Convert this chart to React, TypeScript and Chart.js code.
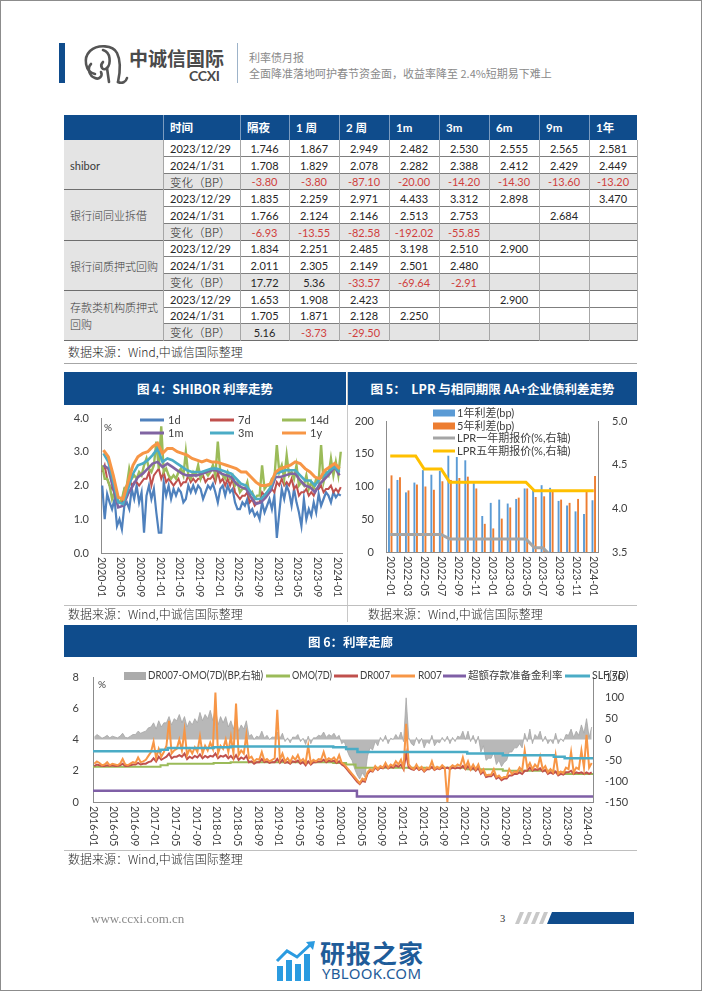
import React, { useEffect, useRef } from "react";
import { Chart, registerables } from "chart.js";

Chart.register(...registerables);

const BLUE = "#0F4C8C";
const AXIS = "#8c8c8c";
const NUMFONT = "Lato, 'Noto Sans CJK SC', sans-serif";
const CJK = "'Noto Sans CJK SC', sans-serif";

Chart.defaults.font.family = NUMFONT;
Chart.defaults.color = "#404040";

// ================= Table data =================
const tableHeads = ["时间", "隔夜", "1 周", "2 周", "1m", "3m", "6m", "9m", "1年"];
const rowLabels = ["2023/12/29", "2024/1/31", "变化（BP）"];
const groupNames = ["shibor", "银行间同业拆借", "银行间质押式回购", "存款类机构质押式\n回购"];
const shiborTable = [
  ["1.746", "1.867", "2.949", "2.482", "2.530", "2.555", "2.565", "2.581"],
  ["1.708", "1.829", "2.078", "2.282", "2.388", "2.412", "2.429", "2.449"],
  ["-3.80", "-3.80", "-87.10", "-20.00", "-14.20", "-14.30", "-13.60", "-13.20"],
];
const interbankTable = [
  ["1.835", "2.259", "2.971", "4.433", "3.312", "2.898", "", "3.470"],
  ["1.766", "2.124", "2.146", "2.513", "2.753", "", "2.684", ""],
  ["-6.93", "-13.55", "-82.58", "-192.02", "-55.85", "", "", ""],
];
const repoTable = [
  ["1.834", "2.251", "2.485", "3.198", "2.510", "2.900", "", ""],
  ["2.011", "2.305", "2.149", "2.501", "2.480", "", "", ""],
  ["17.72", "5.36", "-33.57", "-69.64", "-2.91", "", "", ""],
];
const depositRepoTable = [
  ["1.653", "1.908", "2.423", "", "", "2.900", "", ""],
  ["1.705", "1.871", "2.128", "2.250", "", "", "", ""],
  ["5.16", "-3.73", "-29.50", "", "", "", "", ""],
];

// ================= Chart 4: SHIBOR (2020-01 .. 2024-01) =================
const shiborStartYear = 2020;
const shiborTicks = [0, 4, 8, 12, 16, 20, 24, 28, 32, 36, 40, 44, 48];
const shiborNames = ["1d", "7d", "14d", "1m", "3m", "1y"];
// semi-monthly
const shibor1d = [
  2.0, 1.0, 1.75, 1.5, 1.3, 1.6, 0.8, 1.0, 0.7, 1.4, 1.5, 1.3, 1.9, 1.6, 2.0, 1.5, 1.8, 0.6, 1.7, 2.0, 1.6, 1.9, 1.2, 0.6,
  0.6, 2.1, 1.7, 2.0, 1.6, 1.9, 1.7, 1.9, 1.8, 1.5, 1.6, 2.0, 1.8, 2.0, 1.8, 2.0, 1.9, 1.6, 1.8, 2.0, 1.9, 2.05, 1.8, 1.5,
  1.9, 2.0, 1.7, 2.0, 1.8, 1.9, 1.5, 1.3, 1.3, 1.5, 1.4, 1.6, 1.2, 1.3, 1.1, 1.2, 1.0, 1.5, 1.2, 1.4, 1.6, 1.3, 1.7, 0.45,
  1.2, 1.9, 1.6, 2.0, 1.8, 1.4, 1.9, 1.5, 1.2, 0.8, 1.6, 1.0, 1.3, 1.1, 1.5, 1.2, 1.75, 1.4, 1.6, 1.8, 1.7, 1.5, 1.8, 1.65,
  1.75, 1.7,
];
const shibor7d = [
  2.4, 2.6, 2.2, 2.0, 1.9, 2.1, 1.6, 1.5, 1.5, 1.9, 1.8, 2.2, 2.0, 2.1, 2.1, 2.0, 2.1, 2.2, 2.2, 2.4, 2.0, 2.3, 2.4, 2.5,
  2.2, 2.4, 2.1, 2.2, 2.1, 2.0, 2.1, 2.2, 2.0, 2.1, 2.1, 2.3, 2.1, 2.2, 2.1, 2.2, 2.2, 2.3, 2.1, 2.2, 2.2, 2.3, 2.1, 2.4,
  2.1, 2.2, 2.0, 2.2, 2.0, 2.2, 1.8, 1.7, 1.6, 1.7, 1.7, 1.8, 1.5, 1.6, 1.4, 1.5, 1.5, 1.8, 1.7, 1.8, 1.8, 1.9, 1.8, 2.1,
  2.0, 2.2, 2.0, 2.1, 2.0, 2.2, 1.9, 2.0, 1.7, 1.8, 1.8, 1.9, 1.7, 1.8, 1.7, 1.9, 1.9, 2.0, 1.8, 1.9, 1.9, 2.0, 1.8, 1.9,
  1.8, 1.95,
];
const shibor14d = [
  2.6, 2.2, 2.2, 2.0, 1.6, 1.8, 1.5, 1.5, 1.6, 1.9, 2.0, 2.5, 2.2, 2.3, 2.2, 2.4, 2.3, 2.6, 2.8, 2.5, 2.4, 2.6, 3.3, 2.5,
  3.75, 2.4, 2.5, 2.3, 2.2, 2.3, 2.2, 2.4, 2.5, 2.3, 3.0, 2.3, 2.2, 2.4, 2.3, 2.6, 2.2, 2.4, 2.4, 2.3, 2.4, 2.6, 2.3, 3.3,
  2.4, 2.3, 2.2, 2.4, 2.2, 2.3, 2.0, 2.1, 1.8, 1.9, 1.9, 2.1, 1.7, 1.8, 1.6, 1.7, 1.7, 2.6, 1.9, 2.0, 2.0, 2.2, 2.2, 3.2,
  2.4, 2.6, 2.2, 2.9, 2.3, 2.4, 2.2, 2.6, 2.0, 2.1, 2.0, 2.3, 1.9, 2.1, 1.9, 2.2, 2.1, 3.2, 2.1, 2.4, 2.3, 2.8, 2.3, 2.7,
  2.3, 3.0,
];
// monthly
const shibor1m = [
  2.6, 2.5, 1.9, 1.35, 1.4, 1.75, 2.0, 2.25, 2.35, 2.5, 2.65, 2.7,
  2.55, 2.65, 2.55, 2.45, 2.35, 2.3, 2.3, 2.3, 2.35, 2.4, 2.45, 2.45,
  2.35, 2.3, 2.25, 2.05, 1.95, 1.9, 1.65, 1.45, 1.5, 1.65, 1.85, 2.25,
  2.25, 2.3, 2.35, 2.35, 2.15, 2.0, 1.95, 1.8, 2.05, 2.2, 2.35, 2.55,
  2.3,
];
const shibor3m = [
  2.95, 2.7, 2.1, 1.5, 1.45, 1.9, 2.35, 2.6, 2.65, 2.75, 2.9, 3.1,
  2.7, 2.8, 2.75, 2.65, 2.55, 2.45, 2.4, 2.4, 2.4, 2.45, 2.5, 2.5,
  2.45, 2.4, 2.35, 2.2, 2.05, 2.0, 1.8, 1.6, 1.6, 1.75, 1.95, 2.35,
  2.4, 2.45, 2.45, 2.45, 2.3, 2.15, 2.15, 2.0, 2.2, 2.3, 2.45, 2.55,
  2.4,
];
const shibor1y = [
  3.05, 2.85, 2.3, 1.65, 1.6, 2.1, 2.6, 2.85, 2.95, 3.0, 3.15, 3.25,
  2.95, 3.1, 3.1, 3.0, 2.95, 2.9, 2.8, 2.75, 2.7, 2.75, 2.7, 2.7,
  2.65, 2.6, 2.55, 2.5, 2.4, 2.4, 2.25, 2.1, 2.0, 2.0, 2.05, 2.4,
  2.5, 2.55, 2.6, 2.7, 2.65, 2.5, 2.4, 2.25, 2.2, 2.45, 2.55, 2.65,
  2.5,
];

// ================= Chart 5: LPR spreads =================
const lprMonths = [
  "2022-01", "2022-02", "2022-03", "2022-04", "2022-05", "2022-06", "2022-07", "2022-08", "2022-09", "2022-10", "2022-11", "2022-12",
  "2023-01", "2023-02", "2023-03", "2023-04", "2023-05", "2023-06", "2023-07", "2023-08", "2023-09", "2023-10", "2023-11", "2023-12",
  "2024-01",
];
const lprNames = ["1年利差(bp)", "5年利差(bp)", "LPR一年期报价(%,右轴)", "LPR五年期报价(%,右轴)"];
const spread1y = [97, 110, 91, 106, 125, 118, 124, 147, 145, 140, 105, 55, 75, 80, 74, 81, 97, 95, 102, 98, 78, 71, 62, 58, 79];
const spread5y = [117, 114, 94, 103, 100, 95, 108, 110, 113, 115, 97, 43, 36, 51, 68, 83, 97, 84, 85, 93, 80, 75, 81, 92, 116];
const lpr1y = [3.7, 3.7, 3.7, 3.7, 3.7, 3.7, 3.7, 3.65, 3.65, 3.65, 3.65, 3.65, 3.65, 3.65, 3.65, 3.65, 3.65, 3.55, 3.55, 3.45, 3.45, 3.45, 3.45, 3.45, 3.45];
const lpr5y = [4.6, 4.6, 4.6, 4.6, 4.45, 4.45, 4.45, 4.3, 4.3, 4.3, 4.3, 4.3, 4.3, 4.3, 4.3, 4.3, 4.3, 4.2, 4.2, 4.2, 4.2, 4.2, 4.2, 4.2, 4.2];

// ================= Chart 6: corridor (2016-01 .. 2024-01) =================
const corridorStartYear = 2016;
const corridorTicks = [0, 4, 8, 12, 16, 20, 24, 28, 32, 36, 40, 44, 48, 52, 56, 60, 64, 68, 72, 76, 80, 84, 88, 92, 96];
const corridorNames = ["DR007-OMO(7D)(BP,右轴)", "OMO(7D)", "DR007", "R007", "超额存款准备金利率", "SLF(7D)"];
// semi-monthly
const r007 = [
  2.45, 2.6, 2.5, 2.35, 2.4, 2.55, 2.35, 2.45, 2.4, 2.35, 2.45, 2.75, 2.4, 2.35, 2.45, 2.55, 2.5, 2.85, 2.55, 2.6, 2.7, 2.95, 3.2, 3.85,
  2.8, 3.4, 2.9, 3.2, 3.6, 5.2, 3.1, 3.3, 3.4, 4.0, 3.3, 4.6, 3.0, 3.4, 3.1, 3.5, 3.2, 4.2, 3.1, 3.6, 3.3, 3.8, 3.4, 7.0,
  3.1, 3.6, 3.4, 4.0, 3.2, 4.2, 3.1, 6.3, 3.0, 3.3, 3.1, 4.3, 2.8, 2.9, 2.6, 2.75, 2.7, 3.2, 2.65, 2.75, 2.6, 2.7, 2.8, 5.9,
  2.7, 3.1, 2.6, 2.8, 2.55, 2.9, 2.7, 3.0, 2.6, 2.75, 2.5, 3.6, 2.5, 2.7, 2.6, 2.75, 2.7, 3.2, 2.65, 2.8, 2.7, 2.85, 2.6, 3.0,
  2.5, 2.4, 2.2, 2.0, 1.8, 1.6, 1.4, 1.2, 1.5, 1.4, 1.9, 2.1, 2.0, 2.3, 2.1, 2.3, 2.2, 2.5, 2.2, 2.4, 2.3, 2.6, 2.4, 2.7,
  2.2, 5.0, 2.4, 2.2, 2.1, 2.4, 2.1, 2.25, 2.0, 2.2, 2.15, 2.6, 2.1, 2.25, 2.15, 2.35, 2.2, 0.0, 2.2, 2.35, 2.25, 2.4, 2.3, 2.85,
  2.2, 2.6, 2.1, 2.4, 2.1, 2.4, 1.9, 2.1, 1.7, 1.75, 1.75, 2.1, 1.6, 1.7, 1.5, 1.6, 1.6, 2.1, 1.8, 1.95, 1.9, 2.2, 2.0, 3.3,
  2.2, 2.5, 2.1, 2.4, 2.2, 2.9, 2.1, 2.3, 1.9, 2.1, 1.9, 3.0, 1.8, 1.95, 1.85, 2.2, 2.1, 3.2, 1.9, 2.2, 2.1, 3.3, 2.2, 4.3,
  2.2, 2.5,
];
const dr007 = [
  2.3, 2.4, 2.35, 2.3, 2.3, 2.35, 2.3, 2.35, 2.3, 2.3, 2.35, 2.45, 2.3, 2.3, 2.35, 2.4, 2.4, 2.5, 2.4, 2.45, 2.45, 2.55, 2.6, 2.8,
  2.6, 2.9, 2.7, 2.8, 2.9, 3.1, 2.8, 2.9, 2.9, 3.0, 2.9, 3.1, 2.75, 2.9, 2.8, 2.95, 2.85, 3.05, 2.8, 2.95, 2.85, 2.95, 2.9, 3.1,
  2.8, 2.95, 2.9, 3.0, 2.8, 2.95, 2.75, 3.0, 2.7, 2.85, 2.75, 2.95, 2.55, 2.6, 2.45, 2.55, 2.55, 2.75, 2.55, 2.6, 2.5, 2.55, 2.55, 2.75,
  2.5, 2.7, 2.5, 2.55, 2.45, 2.6, 2.55, 2.65, 2.45, 2.55, 2.35, 2.6, 2.4, 2.55, 2.55, 2.6, 2.6, 2.7, 2.55, 2.65, 2.6, 2.65, 2.5, 2.6,
  2.4, 2.3, 2.1, 1.9, 1.7, 1.5, 1.3, 1.15, 1.35, 1.3, 1.8, 2.0, 1.95, 2.2, 2.05, 2.2, 2.15, 2.3, 2.15, 2.25, 2.2, 2.35, 2.25, 2.4,
  2.1, 3.1, 2.2, 2.1, 2.05, 2.2, 2.05, 2.15, 1.95, 2.1, 2.1, 2.25, 2.05, 2.15, 2.1, 2.2, 2.15, 2.2, 2.1, 2.2, 2.15, 2.2, 2.15, 2.3,
  2.1, 2.3, 2.05, 2.2, 2.0, 2.2, 1.8, 1.95, 1.6, 1.65, 1.65, 1.8, 1.5, 1.6, 1.4, 1.5, 1.5, 1.7, 1.7, 1.8, 1.8, 1.9, 1.8, 2.0,
  2.0, 2.2, 2.0, 2.1, 2.05, 2.15, 1.95, 2.05, 1.8, 1.9, 1.8, 1.95, 1.7, 1.8, 1.75, 1.9, 1.9, 2.0, 1.8, 1.9, 1.85, 1.9, 1.8, 1.9,
  1.8, 1.9,
];
const drOmoSpread = [
  5, 12, 8, 3, 6, 10, 4, 8, 6, 4, 8, 15, 5, 4, 8, 12, 12, 20, 15, 18, 20, 28, 30, 40,
  25, 45, 30, 40, 40, 55, 35, 50, 45, 60, 40, 55, 30, 45, 35, 50, 40, 65, 45, 60, 50, 70, 45, 75,
  35, 55, 40, 55, 30, 45, 25, 50, 20, 35, 25, 45, 8, 12, 0, 8, 5, 20, 3, 10, 0, 6, 5, 18,
  2, 15, -5, 4, -8, 6, 5, 12, -5, 3, -12, 8, -10, 4, 4, 10, 8, 18, 5, 12, 8, 15, 4, 10,
  -10, -5, -25, -40, -50, -70, -85, -95, -80, -90, -40, -20, -25, -5, -15, 5, -5, 10, -10, 3, 0, 12, 2, 18,
  -5, 100, 5, -10, -15, 5, -10, 3, -20, -5, -10, 10, -15, -5, -8, 5, -5, 8, -10, 5, -5, 8, 5, 20,
  0, 20, -5, 10, -10, 8, -30, -15, -50, -45, -45, -30, -60, -50, -65, -55, -50, -30, -30, -20, -20, -10, -20, 15,
  -5, 25, -10, 12, 5, 20, -5, 8, -10, 0, -10, 15, -10, 2, -5, 12, 10, 25, 5, 20, 10, 35, 15, 50,
  5, 30,
];
// step series: change dates (month index from 2016-01) and new levels
const omoX = [0, 13.1, 14.5, 23.4, 26.7, 46.6, 49.1, 50.95, 72.6, 79.5, 89.4, 91.5, 97];
const omoY = [2.25, 2.35, 2.45, 2.5, 2.55, 2.5, 2.4, 2.2, 2.1, 2.0, 1.9, 1.8, 1.8];
const slfX = [0, 13.1, 14.5, 23.4, 26.7, 46.6, 49.1, 51.3, 72.6, 79.5, 89.4, 91.5, 97];
const slfY = [3.25, 3.35, 3.45, 3.5, 3.55, 3.5, 3.4, 3.2, 3.1, 3.0, 2.9, 2.8, 2.8];
const excessX = [0, 51.2, 97];
const excessY = [0.72, 0.35, 0.35];

// ================= helpers =================
const semiPts = (arr: number[]) => arr.map((y, i) => ({ x: i * 0.5 + 0.25, y }));
const monthPts = (arr: number[]) => arr.map((y, i) => ({ x: i + 0.5, y }));
const stepPts = (xs: number[], ys: number[]) => xs.map((x, i) => ({ x, y: ys[i] }));
const ymLabel = (start: number, v: number) => {
  const y = start + Math.floor(v / 12);
  const m = Math.round(v % 12) + 1;
  return `${y}-${m < 10 ? "0" + m : m}`;
};

function makeOverlay(cfg: any) {
  return {
    id: "overlay",
    afterDraw(chart: any) {
      const ctx = chart.ctx;
      const sc = chart.scales.x;
      ctx.save();
      ctx.fillStyle = "#404040";
      ctx.font = cfg.xFont;
      ctx.textAlign = "left";
      ctx.textBaseline = "middle";
      sc.ticks.forEach((t: any, i: number) => {
        const lab = cfg.xLabel(t.value, i);
        if (!lab) return;
        const px = sc.getPixelForTick(i);
        ctx.save();
        ctx.translate(px, sc.top + cfg.xGap);
        ctx.rotate(Math.PI / 2);
        ctx.fillText(lab, 0, 0);
        ctx.restore();
      });
      ctx.font = cfg.legendFont;
      ctx.textBaseline = "middle";
      cfg.items.forEach((it: any) => {
        if (it.kind === "box") {
          ctx.fillStyle = it.color;
          ctx.fillRect(it.x1, it.y - it.h / 2, it.x2 - it.x1, it.h);
        } else {
          ctx.strokeStyle = it.color;
          ctx.lineWidth = it.w;
          ctx.beginPath();
          ctx.moveTo(it.x1, it.y);
          ctx.lineTo(it.x2, it.y);
          ctx.stroke();
        }
        ctx.fillStyle = "#404040";
        if (it.maxW) ctx.fillText(it.label, it.tx, it.y, it.maxW);
        else ctx.fillText(it.label, it.tx, it.y);
      });
      (cfg.texts || []).forEach((t: any) => {
        ctx.font = t.font;
        ctx.fillStyle = "#404040";
        ctx.fillText(t.t, t.x, t.y);
      });
      ctx.restore();
    },
  };
}

const baseOpts = {
  responsive: false,
  animation: false,
  events: [],
  plugins: { legend: { display: false }, tooltip: { enabled: false } },
};

function shiborConfig(): any {
  const colors = ["#4F81BD", "#C0504D", "#9BBB59", "#8064A2", "#4BACC6", "#F79646"];
  const widths = [2.2, 2, 2.4, 2.6, 2.6, 3];
  const series = [semiPts(shibor1d), semiPts(shibor7d), semiPts(shibor14d), monthPts(shibor1m), monthPts(shibor3m), monthPts(shibor1y)];
  const datasets = series.map((d, i) => ({
    label: shiborNames[i],
    data: d,
    borderColor: colors[i],
    backgroundColor: colors[i],
    borderWidth: widths[i],
    pointRadius: 0,
    tension: 0,
    fill: false,
    order: 6 - i,
  }));
  const sx = [76, 146, 218];
  const tx = [104, 174, 246];
  const items = shiborNames.map((n, i) => ({
    kind: "line",
    color: colors[i],
    w: 3,
    x1: sx[i % 3],
    x2: sx[i % 3] + 24,
    tx: tx[i % 3],
    y: i < 3 ? 15 : 28,
    label: n,
  }));
  return {
    type: "line",
    data: { datasets },
    options: {
      ...baseOpts,
      layout: { padding: { left: 0, right: 4, top: 13, bottom: 5 } },
      scales: {
        x: {
          type: "linear",
          min: 0,
          max: 49,
          grid: { display: false },
          border: { display: true, color: AXIS },
          ticks: { display: false },
          afterBuildTicks: (ax: any) => {
            ax.ticks = shiborTicks.map((v) => ({ value: v }));
          },
          afterFit: (s: any) => {
            s.height = 52;
          },
        },
        y: {
          min: 0,
          max: 4,
          grid: { display: false },
          border: { display: true, color: AXIS },
          ticks: { stepSize: 1, padding: 4, font: { size: 11 }, callback: (v: any) => Number(v).toFixed(1) },
          afterFit: (s: any) => {
            s.width = 37;
          },
        },
      },
    },
    plugins: [
      makeOverlay({
        xFont: "10.5px Lato",
        xGap: 4,
        xLabel: (v: number) => ymLabel(shiborStartYear, v),
        legendFont: "11px Lato",
        items,
        texts: [{ t: "%", x: 40, y: 23, font: "10px Lato" }],
      }),
    ],
  };
}

function lprConfig(): any {
  const items = [
    { kind: "box", color: "#5B9BD5", h: 7, x1: 84, x2: 106, tx: 108, y: 8, label: lprNames[0] },
    { kind: "box", color: "#ED7D31", h: 7, x1: 84, x2: 106, tx: 108, y: 21, label: lprNames[1] },
    { kind: "line", color: "#A5A5A5", w: 3, x1: 84, x2: 106, tx: 108, y: 33, label: lprNames[2] },
    { kind: "line", color: "#FFC000", w: 3, x1: 84, x2: 106, tx: 108, y: 46, label: lprNames[3] },
  ];
  return {
    type: "bar",
    data: {
      labels: lprMonths,
      datasets: [
        { type: "bar", label: lprNames[0], data: spread1y, backgroundColor: "#5B9BD5", yAxisID: "y", order: 2, categoryPercentage: 0.6, barPercentage: 0.75 },
        { type: "bar", label: lprNames[1], data: spread5y, backgroundColor: "#ED7D31", yAxisID: "y", order: 3, categoryPercentage: 0.6, barPercentage: 0.75 },
        { type: "line", label: lprNames[2], data: lpr1y, yAxisID: "y1", borderColor: "#A5A5A5", borderWidth: 3, pointRadius: 0, tension: 0, order: 1 },
        { type: "line", label: lprNames[3], data: lpr5y, yAxisID: "y1", borderColor: "#FFC000", borderWidth: 3, pointRadius: 0, tension: 0, order: 0 },
      ],
    },
    options: {
      ...baseOpts,
      layout: { padding: { left: 0, right: 0, top: 16, bottom: 6 } },
      scales: {
        x: {
          type: "category",
          offset: true,
          grid: { display: false },
          border: { display: true, color: AXIS },
          ticks: { display: false, autoSkip: false },
          afterFit: (s: any) => {
            s.height = 52;
          },
        },
        y: {
          position: "left",
          min: 0,
          max: 200,
          grid: { display: false },
          border: { display: true, color: AXIS },
          ticks: { stepSize: 50, padding: 4, font: { size: 11 } },
          afterFit: (s: any) => {
            s.width = 37;
          },
        },
        y1: {
          position: "right",
          min: 3.5,
          max: 5.0,
          grid: { display: false },
          border: { display: true, color: AXIS },
          ticks: { stepSize: 0.5, padding: 6, font: { size: 11 }, callback: (v: any) => Number(v).toFixed(1) },
          afterFit: (s: any) => {
            s.width = 38;
          },
        },
      },
    },
    plugins: [
      makeOverlay({
        xFont: "10.5px Lato",
        xGap: 4,
        xLabel: (_v: number, i: number) => (i % 2 === 0 ? lprMonths[i] : ""),
        legendFont: "11px Lato, 'Noto Sans CJK SC'",
        items,
      }),
    ],
  };
}

function corridorConfig(): any {
  const colors = ["#ABABAB", "#9BBB59", "#C0504D", "#F79646", "#7F5FA6", "#4BACC6"];
  const datasets: any[] = [
    { type: "line", label: corridorNames[0], data: semiPts(drOmoSpread), yAxisID: "y1", borderColor: "#A6A6A6", backgroundColor: "#B8B8B8", borderWidth: 0.8, pointRadius: 0, tension: 0, fill: { value: 0 }, order: 6 },
    { type: "line", label: corridorNames[1], data: stepPts(omoX, omoY), yAxisID: "y", borderColor: colors[1], borderWidth: 2, pointRadius: 0, stepped: "before", order: 5 },
    { type: "line", label: corridorNames[2], data: semiPts(dr007), yAxisID: "y", borderColor: colors[2], borderWidth: 2, pointRadius: 0, tension: 0, order: 4 },
    { type: "line", label: corridorNames[3], data: semiPts(r007), yAxisID: "y", borderColor: colors[3], borderWidth: 2, pointRadius: 0, tension: 0, order: 3 },
    { type: "line", label: corridorNames[4], data: stepPts(excessX, excessY), yAxisID: "y", borderColor: colors[4], borderWidth: 2.5, pointRadius: 0, stepped: "before", order: 2 },
    { type: "line", label: corridorNames[5], data: stepPts(slfX, slfY), yAxisID: "y", borderColor: colors[5], borderWidth: 2.5, pointRadius: 0, stepped: "before", order: 1 },
  ];
  const pos = [
    [60, 82, 84, 115],
    [202, 226, 228, 40],
    [270, 294, 296, 30],
    [327, 351, 354, 24],
    [379, 402, 404, 95],
    [501, 526, 528, 42],
  ];
  const items = corridorNames.map((n, i) => ({
    kind: i === 0 ? "box" : "line",
    color: colors[i],
    h: 8,
    w: 3,
    x1: pos[i][0],
    x2: pos[i][1],
    tx: pos[i][2],
    maxW: pos[i][3],
    y: 19,
    label: n,
  }));
  return {
    type: "line",
    data: { datasets },
    options: {
      ...baseOpts,
      layout: { padding: { left: 0, right: 0, top: 20, bottom: 2 } },
      scales: {
        x: {
          type: "linear",
          min: 0,
          max: 97,
          offset: false,
          grid: { display: false },
          border: { display: true, color: AXIS },
          ticks: { display: false },
          afterBuildTicks: (ax: any) => {
            ax.ticks = corridorTicks.map((v) => ({ value: v }));
          },
          afterFit: (s: any) => {
            s.height = 45;
          },
        },
        y: {
          position: "left",
          min: 0,
          max: 8,
          grid: { display: false },
          border: { display: true, color: AXIS },
          ticks: { stepSize: 2, padding: 6, font: { size: 11 } },
          afterFit: (s: any) => {
            s.width = 29;
          },
        },
        y1: {
          position: "right",
          min: -150,
          max: 150,
          grid: { display: false },
          border: { display: true, color: AXIS },
          ticks: { stepSize: 50, padding: 4, font: { size: 11 } },
          afterFit: (s: any) => {
            s.width = 43;
          },
        },
      },
    },
    plugins: [
      makeOverlay({
        xFont: "10.5px Lato",
        xGap: 4,
        xLabel: (v: number) => ymLabel(corridorStartYear, v),
        legendFont: "10.5px Lato, 'Noto Sans CJK SC'",
        items,
        texts: [{ t: "%", x: 34, y: 28, font: "10px Lato" }],
      }),
    ],
  };
}

function ChartBox({ left, top, width, height, make }: any) {
  const ref = useRef<HTMLCanvasElement>(null);
  useEffect(() => {
    const chart = new Chart(ref.current as HTMLCanvasElement, make());
    return () => chart.destroy();
  }, []);
  return <canvas ref={ref} width={width} height={height} style={{ position: "absolute", left, top, width, height }} />;
}

const abs = (left: number, top: number, extra: any = {}) => ({ position: "absolute" as const, left, top, ...extra });

function DataTable() {
  const colX = [64, 163, 240, 289, 339, 389, 439, 489, 539, 589, 637];
  const top = 115;
  const headH = 25;
  const rowH = 16.75;
  const ry = (k: number) => Math.round(top + headH + k * rowH);
  const groups = [shiborTable, interbankTable, repoTable, depositRepoTable];
  const els: any[] = [];
  els.push(<div key="hb" style={abs(64, top, { width: 573, height: headH, background: BLUE })} />);
  tableHeads.forEach((h, i) =>
    els.push(
      <div key={"h" + i} style={abs(colX[i + 1] + 7, top, { height: headH, lineHeight: headH + "px", color: "#fff", fontWeight: 700, fontSize: 11.5, fontFamily: NUMFONT, whiteSpace: "nowrap" })}>
        {h}
      </div>
    )
  );
  for (let i = 1; i < 10; i++) {
    els.push(<div key={"hs" + i} style={abs(colX[i], top, { width: 1, height: headH, background: "rgba(255,255,255,0.45)" })} />);
  }
  groups.forEach((g, gi) => {
    const g0 = ry(gi * 3);
    const g1 = ry(gi * 3 + 3);
    els.push(<div key={"gb" + gi} style={abs(64, g0, { width: colX[1] - 64, height: g1 - g0, background: "#E4E4E4" })} />);
    els.push(
      <div
        key={"gl" + gi}
        style={abs(70, g0, { width: 93, height: g1 - g0, display: "flex", alignItems: "center", fontSize: 11, lineHeight: "17px", color: "#3a3a3a", whiteSpace: "pre", fontFamily: gi === 0 ? NUMFONT : CJK, fontWeight: gi === 0 ? 400 : 300 })}
      >
        {groupNames[gi]}
      </div>
    );
    g.forEach((row, r) => {
      const y0 = ry(gi * 3 + r);
      const y1 = ry(gi * 3 + r + 1);
      const h = y1 - y0;
      els.push(<div key={`rb${gi}-${r}`} style={abs(colX[1], y0, { width: 637 - colX[1], height: h, background: r === 2 ? "#E4E4E4" : "#fff" })} />);
      els.push(
        <div key={`rl${gi}-${r}`} style={abs(colX[1] + 7, y0, { height: h, lineHeight: h + "px", fontSize: r === 2 ? 11.5 : 11, color: "#262626", fontFamily: r === 2 ? CJK : NUMFONT, fontWeight: r === 2 ? 300 : 400, whiteSpace: "nowrap" })}>
          {rowLabels[r]}
        </div>
      );
      row.forEach((v, j) => {
        if (!v) return;
        const neg = v.startsWith("-");
        els.push(
          <div
            key={`c${gi}-${r}-${j}`}
            style={abs(colX[j + 2], y0, { width: colX[j + 3] - colX[j + 2], height: h, lineHeight: h + "px", textAlign: "center", fontSize: 11, fontFamily: NUMFONT, color: neg ? "#D0403C" : "#262626" })}
          >
            {v}
          </div>
        );
      });
      const full = r === 2;
      els.push(<div key={`hl${gi}-${r}`} style={abs(full ? 64 : colX[1], y1 - 1, { width: full ? 573 : 637 - colX[1], height: 1, background: full ? "#6e6e6e" : "#7f7f7f" })} />);
    });
  });
  for (let i = 1; i < 11; i++) {
    els.push(<div key={"vs" + i} style={abs(colX[i], ry(0), { width: 1, height: ry(12) - ry(0), background: "#a6a6a6" })} />);
  }
  return <>{els}</>;
}

const srcText = "数据来源：Wind,中诚信国际整理";
const srcStyle = { fontSize: 12, lineHeight: "16px", color: "#262626", fontFamily: CJK, fontWeight: 300, whiteSpace: "nowrap" as const };
const titleStyle = { color: "#fff", fontWeight: 700, fontSize: 12.5, fontFamily: CJK, display: "flex", alignItems: "center", justifyContent: "center", whiteSpace: "pre" as const };

export default function App() {
  useEffect(() => {
    document.body.style.margin = "0";
  }, []);
  return (
    <div style={{ position: "absolute", left: 0, top: 0, width: 702, height: 991, background: "#fff", overflow: "hidden", fontFamily: CJK }}>
      {/* header */}
      <div style={abs(59, 43, { width: 6, height: 40, background: BLUE })} />
      <svg style={abs(80, 43)} width={50} height={42} viewBox="0 0 50 42">
        <g fill="none" stroke="#555" strokeWidth={2.6} strokeLinecap="round" strokeLinejoin="round">
          <path d="M15 31 C5 29 3 15 10 8 C18 1 33 2 37 10 C41 18 40 30 38 39" />
          <path d="M23 7 C31 9 31 21 27 25 C23 29 19 23 23 19" />
          <path d="M38 39 C42 41 46 39 47 35" />
          <path d="M11 21 C7 25 9 33 15 35 C19 37 23 33 21 29" />
          <path d="M27 25 L29 39" />
        </g>
      </svg>
      <div style={abs(129, 47, { fontSize: 19, lineHeight: "22px", color: "#4a4a4a", fontWeight: 700, whiteSpace: "nowrap" })}>中诚信国际</div>
      <div style={abs(189, 68, { fontSize: 14, lineHeight: "16px", color: "#4a4a4a", fontWeight: 700, fontFamily: NUMFONT, letterSpacing: -0.3 })}>CCXI</div>
      <div style={abs(237, 43, { width: 1, height: 40, background: "#9db3c9" })} />
      <div style={abs(249, 50, { fontSize: 11, lineHeight: "14px", color: "#8a8a8a", whiteSpace: "nowrap" })}>利率债月报</div>
      <div style={abs(249, 66, { fontSize: 11, lineHeight: "14px", color: "#8a8a8a", whiteSpace: "nowrap" })}>全面降准落地呵护春节资金面，收益率降至 2.4%短期易下难上</div>

      {/* table */}
      <DataTable />
      <div style={abs(68, 344, srcStyle)}>{srcText}</div>
      <div style={abs(64, 363, { width: 573, height: 1, background: "#a6a6a6" })} />

      {/* chart 4 & 5 */}
      <div style={abs(64, 372, { width: 282, height: 33, background: BLUE, ...titleStyle })}>图 4：SHIBOR 利率走势</div>
      <div style={abs(348, 372, { width: 289, height: 33, background: BLUE, ...titleStyle })}>图 5：  LPR 与相同期限 AA+企业债利差走势</div>
      <div style={abs(347, 372, { width: 1, height: 250, background: "#c8c8c8" })} />
      <ChartBox left={64} top={405} width={282} height={205} make={shiborConfig} />
      <ChartBox left={349} top={405} width={287} height={205} make={lprConfig} />
      <div style={abs(64, 605, { width: 573, height: 1, background: "#bfbfbf" })} />
      <div style={abs(68, 606, srcStyle)}>{srcText}</div>
      <div style={abs(368, 606, srcStyle)}>{srcText}</div>

      {/* chart 6 */}
      <div style={abs(64, 625, { width: 573, height: 32, background: BLUE, ...titleStyle })}>图 6：利率走廊</div>
      <ChartBox left={64} top={657} width={572} height={192} make={corridorConfig} />
      <div style={abs(64, 850, { width: 573, height: 1, background: "#bfbfbf" })} />
      <div style={abs(68, 851, srcStyle)}>{srcText}</div>

      {/* footer */}
      <div style={abs(91, 911, { fontSize: 13, lineHeight: "16px", color: "#8c8c8c", fontFamily: "'Liberation Serif', serif" })}>www.ccxi.com.cn</div>
      <div style={abs(500, 912, { fontSize: 10.5, lineHeight: "14px", color: "#333", fontFamily: "'Liberation Serif', serif" })}>3</div>
      <svg style={abs(512, 910)} width={125} height={16}>
        {[0, 1, 2, 3].map((k) => (
          <polygon key={k} points={`${8 + k * 8},2 ${12 + k * 8},2 ${7 + k * 8},14 ${3 + k * 8},14`} fill="#c8c8c8" />
        ))}
        <polygon points="40,2 122,2 122,14 35,14" fill={BLUE} />
      </svg>

      {/* watermark */}
      <svg style={abs(274, 940)} width={44} height={42}>
        <rect x={3} y={26} width={6} height={15} fill="#2B9BE0" />
        <rect x={12} y={20} width={6} height={21} fill="#2B9BE0" />
        <rect x={21} y={24} width={6} height={17} fill="#2B9BE0" />
        <rect x={30} y={14} width={6} height={27} fill="#2B9BE0" />
        <polyline points="3,21 13,11 23,17 36,5" fill="none" stroke="#2B9BE0" strokeWidth={3} />
        <polygon points="32,2 41,1 39,10" fill="#2B9BE0" />
      </svg>
      <div style={abs(320, 938, { fontSize: 25, lineHeight: "28px", color: "#1f5c99", fontWeight: 700, letterSpacing: 1, whiteSpace: "nowrap" })}>研报之家</div>
      <div style={abs(322, 965, { fontSize: 15, lineHeight: "17px", color: "#1f5c99", fontFamily: "'Noto Sans', sans-serif", letterSpacing: 0.3 })}>YBLOOK.COM</div>

      {/* page border */}
      <div style={abs(0, 0, { width: 702, height: 991, border: "1px solid #8c8c8c", boxSizing: "border-box", pointerEvents: "none" })} />
    </div>
  );
}
